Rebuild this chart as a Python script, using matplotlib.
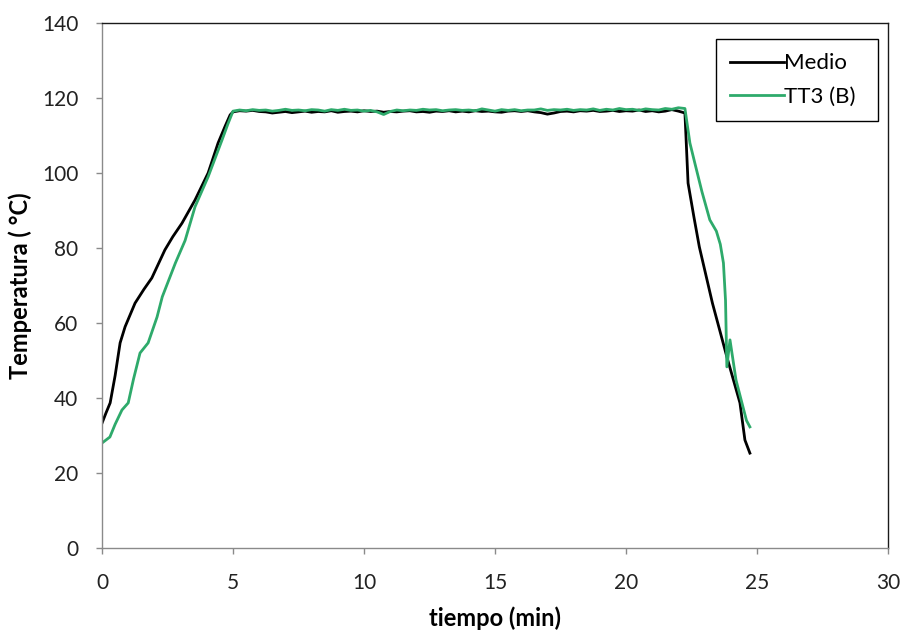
import matplotlib.pyplot as plt
import numpy as np

plt.rcParams['font.family'] = ['Lato', 'DejaVu Sans']

# heating ramp (min, degC)
medio_up_t = [0.0, 0.15, 0.31, 0.5, 0.69, 0.88, 1.26, 1.6, 1.9, 2.4, 2.7, 3.05, 3.55, 4.05, 4.43, 4.7, 4.89, 5.0]
medio_up_T = [33.3, 36.0, 38.7, 46.0, 54.7, 59.0, 65.3, 69.0, 72.0, 79.5, 83.0, 86.6, 92.8, 100.0, 108.0, 112.5, 115.5, 116.3]
tt3_up_t = [0.0, 0.15, 0.3, 0.5, 0.76, 1.0, 1.2, 1.45, 1.76, 2.1, 2.3, 2.8, 3.17, 3.55, 4.05, 4.58, 4.8, 5.0]
tt3_up_T = [28.0, 28.8, 29.6, 33.0, 36.8, 38.7, 45.0, 52.0, 54.7, 61.6, 67.0, 76.0, 82.0, 91.0, 99.0, 108.8, 113.0, 116.5]

# holding stage, one reading every 0.25 min from 5.25 min
medio_hold = [116.6, 116.5, 116.7, 116.4, 116.3, 116.0, 116.2, 116.4, 116.1, 116.3,
              116.5, 116.2, 116.4, 116.3, 116.6, 116.2, 116.4, 116.5, 116.3, 116.6,
              116.4, 116.5, 116.2, 116.4, 116.3, 116.5, 116.6, 116.3, 116.4, 116.2,
              116.5, 116.4, 116.6, 116.3, 116.5, 116.3, 116.6, 116.4, 116.5, 116.3,
              116.2, 116.5, 116.6, 116.4, 116.6, 116.3, 116.1, 115.7, 116.0, 116.4,
              116.5, 116.3, 116.6, 116.5, 116.7, 116.4, 116.5, 116.7, 116.4, 116.6,
              116.5, 116.8, 116.4, 116.6, 116.3, 116.5, 116.9, 116.5]
tt3_hold = [116.8, 116.6, 116.9, 116.7, 116.8, 116.5, 116.7, 117.0, 116.7, 116.8,
            116.6, 116.9, 116.8, 116.5, 116.9, 116.7, 117.0, 116.7, 116.8, 116.5,
            116.7, 116.3, 115.6, 116.4, 116.8, 116.6, 116.8, 116.7, 117.0, 116.8,
            116.9, 116.6, 116.8, 116.9, 116.7, 116.8, 116.6, 117.1, 116.8, 116.5,
            116.9, 116.7, 116.9, 116.6, 116.8, 116.8, 117.1, 116.7, 116.9, 116.8,
            117.0, 116.7, 116.9, 116.8, 117.1, 116.7, 117.0, 116.8, 117.2, 116.9,
            117.0, 116.7, 117.1, 116.9, 116.8, 117.2, 117.0, 117.4]

# cooling
medio_down_t = [22.25, 22.37, 22.6, 22.8, 23.3, 23.85, 24.35, 24.54, 24.73]
medio_down_T = [116.0, 97.3, 88.0, 80.3, 65.3, 51.0, 38.7, 28.8, 25.3]
tt3_down_t = [22.25, 22.44, 22.63, 22.9, 23.2, 23.45, 23.6, 23.72, 23.8, 23.85, 23.97, 24.2, 24.6, 24.73]
tt3_down_T = [117.2, 108.0, 102.6, 95.0, 87.5, 84.5, 81.0, 76.0, 66.0, 48.3, 55.5, 44.8, 34.0, 32.3]

hold_t = list(5.25 + 0.25 * np.arange(len(medio_hold)))

medio_t = medio_up_t + hold_t + medio_down_t
medio_T = medio_up_T + medio_hold + medio_down_T
tt3_t = tt3_up_t + hold_t + tt3_down_t
tt3_T = tt3_up_T + tt3_hold + tt3_down_T

fig = plt.figure(figsize=(9.07, 6.39), dpi=100)
ax = fig.add_axes([0.1125, 0.1424, 0.8665, 0.8216])

ax.plot(medio_t, medio_T, color='black', lw=2.0, label='Medio')
ax.plot(tt3_t, tt3_T, color='#2eaa6b', lw=2.0, label='TT3 (B)')

ax.set_xlim(0, 30)
ax.set_ylim(0, 140)
ax.set_xticks([0, 5, 10, 15, 20, 25, 30])
ax.set_yticks(range(0, 141, 20))
ax.tick_params(direction='out', length=4, width=1, color='#8a8a8a',
               labelsize=15, labelcolor='#222222', top=False, right=False)
ax.tick_params(axis='x', pad=14)
ax.tick_params(axis='y', pad=13)
for side in ['left', 'bottom']:
    ax.spines[side].set_color('#8a8a8a')
for side in ['top', 'right']:
    ax.spines[side].set_color('#1a1a1a')
for s in ax.spines.values():
    s.set_linewidth(1.0)

ax.set_xlabel('tiempo (min)', fontsize=17, fontweight='bold')
ax.set_ylabel('Temperatura ( °C)', fontsize=17, fontweight='bold')
ax.xaxis.set_label_coords(0.5, -0.112)
ax.yaxis.set_label_coords(-0.089, 0.5)

leg = ax.legend(loc='upper left', bbox_to_anchor=(0.781, 0.9695, 0.206, 0.0),
                mode='expand', borderaxespad=0, fontsize=16,
                handlelength=2.4, handletextpad=0.0, borderpad=0.65,
                labelspacing=0.6, fancybox=False, framealpha=1)
leg.get_frame().set_edgecolor('black')
leg.get_frame().set_linewidth(1.0)

fig.savefig('out.png', dpi=100)
